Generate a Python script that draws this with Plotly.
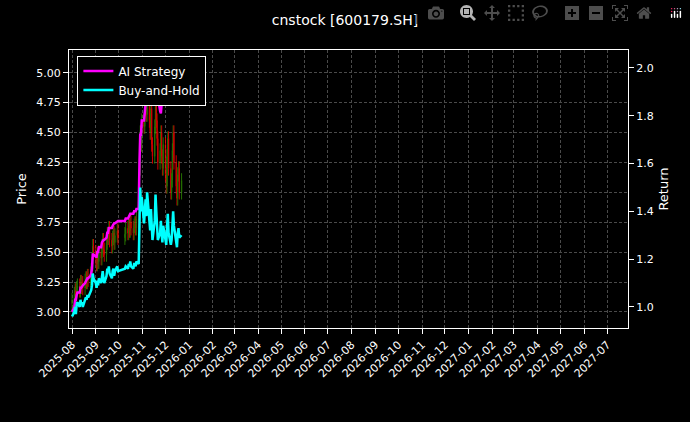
import pandas as pd
import plotly.graph_objects as go

close_aug = [3.10,3.15,3.18,3.12,3.20,3.22,3.18,3.25,3.21,3.24,3.20,3.26,3.28,3.25,3.30,3.27,3.32,3.35,3.40,3.55,3.50]
close_sep = [3.45,3.40,3.48,3.42,3.50,3.45,3.55,3.60,3.52,3.48,3.58,3.65,3.62,3.70,3.60,3.55,3.62,3.66,3.58,3.64,3.68,3.62]
close_oct = [3.65,3.70,3.66,3.72,3.68,3.75,3.70,3.66,3.72,3.74,3.70,3.78,3.75,4.20,4.50,4.40,4.60]
close_nov = [4.55,4.70,4.80,4.65,4.85,4.60,4.50,4.70,4.40,4.30,4.55,4.75,4.60,4.45,4.25,4.35,4.50,4.30,4.20,4.40]
close_dec = [4.15,4.05,4.30,4.45,4.20,4.00,4.10,4.35,4.50,4.25,4.05,3.95,4.15,4.20,4.00,4.10]

bh_aug = [0.96,0.98,1.00,0.97,1.01,1.02,1.00,1.03,1.01,1.02,1.00,1.03,1.04,1.03,1.05,1.04,1.06,1.07,1.09,1.14,1.12]
bh_sep = [1.10,1.08,1.11,1.09,1.12,1.10,1.13,1.15,1.12,1.10,1.13,1.16,1.15,1.17,1.14,1.12,1.15,1.16,1.13,1.15,1.17,1.15]
bh_oct = [1.16,1.17,1.16,1.18,1.17,1.19,1.17,1.16,1.18,1.18,1.17,1.19,1.18,1.32,1.50,1.40,1.46]
bh_nov = [1.35,1.42,1.45,1.38,1.48,1.36,1.32,1.41,1.30,1.28,1.36,1.47,1.40,1.34,1.28,1.31,1.36,1.30,1.27,1.34]
bh_dec = [1.29,1.26,1.33,1.39,1.31,1.26,1.28,1.35,1.40,1.34,1.27,1.25,1.31,1.33,1.29,1.30]

ai_aug = [0.98,1.00,1.03,1.03,1.05,1.06,1.06,1.08,1.08,1.09,1.09,1.10,1.11,1.11,1.12,1.12,1.13,1.14,1.16,1.22,1.22]
ai_sep = [1.21,1.21,1.23,1.23,1.25,1.25,1.27,1.28,1.28,1.28,1.29,1.31,1.31,1.33,1.33,1.33,1.34,1.35,1.35,1.35,1.36,1.36]
ai_oct = [1.36,1.37,1.37,1.38,1.38,1.39,1.39,1.39,1.40,1.40,1.40,1.41,1.41,1.60,1.72,1.72,1.78]
ai_nov = [1.78,1.82,1.85,1.85,1.90,1.90,1.88,1.93,1.93,1.93,1.95,1.99,1.99,1.95,1.88,1.82,1.81,1.85,1.95,2.00]
ai_dec = [2.02]

dates = (list(pd.bdate_range("2025-08-01", "2025-09-30")) +
         list(pd.bdate_range("2025-10-09", "2025-12-22")))
close = close_aug + close_sep + close_oct + close_nov + close_dec
bh = bh_aug + bh_sep + bh_oct + bh_nov + bh_dec
ai = ai_aug + ai_sep + ai_oct + ai_nov + ai_dec
opens = [close[0] - 0.03] + close[:-1]
high = [max(o, c) + 0.06 for o, c in zip(opens, close)]
low = [min(o, c) - 0.06 for o, c in zip(opens, close)]

tick_vals = list(pd.date_range("2025-08-01", "2027-07-01", freq="MS"))
tick_text = [d.strftime("%Y-%m") for d in tick_vals]

fig = go.Figure()
fig.add_trace(go.Candlestick(x=dates, open=opens, high=high, low=low, close=close,
    increasing=dict(line=dict(color="#2e8b00", width=1), fillcolor="#2e8b00"),
    decreasing=dict(line=dict(color="#ff0000", width=1), fillcolor="#ff0000"),
    whiskerwidth=0, showlegend=False, opacity=0.8))
fig.add_trace(go.Scatter(x=dates[:len(ai)], y=ai, name="AI Strategy", yaxis="y2",
    mode="lines", line=dict(color="#ff00ff", width=2.5)))
fig.add_trace(go.Scatter(x=dates, y=bh, name="Buy-and-Hold", yaxis="y2",
    mode="lines", line=dict(color="#00ffff", width=2.5)))

grid = dict(showgrid=True, gridcolor="#4a4a4a", griddash="3px,2px", gridwidth=0.6)
fig.update_layout(
    width=690, height=422, paper_bgcolor="black", plot_bgcolor="black",
    font=dict(family="DejaVu Sans", color="white", size=11),
    title=dict(text="cnstock [600179.SH]", x=0.5, xanchor="center", y=0.965, font=dict(size=14)),
    margin=dict(l=69, r=62, t=50, b=94),
    xaxis=dict(range=["2025-07-28", "2027-07-28"], tickvals=tick_vals, ticktext=tick_text,
               tickangle=-45, rangeslider=dict(visible=False), showline=True, linecolor="white",
               mirror=True, ticks="outside", tickcolor="white", **grid),
    yaxis=dict(title=dict(text="Price", standoff=6), range=[2.866, 5.19], tickvals=[3.0,3.25,3.5,3.75,4.0,4.25,4.5,4.75,5.0],
               ticktext=["3.00","3.25","3.50","3.75","4.00","4.25","4.50","4.75","5.00"],
               showline=True, linecolor="white", ticks="outside", tickcolor="white", zeroline=False, **grid),
    yaxis2=dict(title=dict(text="Return", standoff=6), overlaying="y", side="right", range=[0.912, 2.075],
                tickvals=[1.0,1.2,1.4,1.6,1.8,2.0], ticktext=["1.0","1.2","1.4","1.6","1.8","2.0"],
                showline=True, linecolor="white", ticks="outside", tickcolor="white", showgrid=False, zeroline=False),
    legend=dict(x=0.015, y=0.98, xanchor="left", yanchor="top", bgcolor="black",
                bordercolor="white", borderwidth=1, font=dict(size=12)),
)
fig.write_html("out.html", post_script="document.body.style.margin='0';document.body.style.background='black';")
